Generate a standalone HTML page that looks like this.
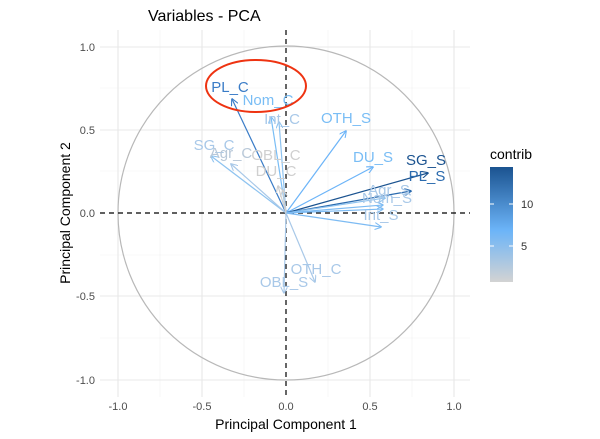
<!DOCTYPE html>
<html><head><style>body{margin:0;background:#fff}svg{display:block;font-family:"Liberation Sans",sans-serif}</style></head><body>
<svg width="600" height="439" xmlns="http://www.w3.org/2000/svg">
<defs>
<linearGradient id="g" x1="0" y1="1" x2="0" y2="0">
<stop offset="0" stop-color="#d3d3d3"/><stop offset="0.45" stop-color="#6cb4f8"/><stop offset="1" stop-color="#1b5390"/>
</linearGradient>
<marker id="a" viewBox="0 0 10 10" refX="9" refY="5" markerWidth="6" markerHeight="6" orient="auto-start-reverse"><path d="M0,0 L10,5 L0,10" fill="none" stroke="context-stroke" stroke-width="1.5"/></marker>
</defs>
<text x="148" y="21" font-size="16" fill="#000">Variables - PCA</text>
<g stroke="#f2f2f2" stroke-width="0.6">
<line x1="160" y1="30" x2="160" y2="397"/><line x1="244" y1="30" x2="244" y2="397"/><line x1="328" y1="30" x2="328" y2="397"/><line x1="412" y1="30" x2="412" y2="397"/>
<line x1="100" y1="88" x2="470" y2="88"/><line x1="100" y1="171" x2="470" y2="171"/><line x1="100" y1="255" x2="470" y2="255"/><line x1="100" y1="338" x2="470" y2="338"/>
</g>
<g stroke="#e8e8e8" stroke-width="1.1">
<line x1="118" y1="30" x2="118" y2="397"/><line x1="202" y1="30" x2="202" y2="397"/><line x1="370" y1="30" x2="370" y2="397"/><line x1="454" y1="30" x2="454" y2="397"/>
<line x1="100" y1="47" x2="470" y2="47"/><line x1="100" y1="130" x2="470" y2="130"/><line x1="100" y1="296" x2="470" y2="296"/><line x1="100" y1="380" x2="470" y2="380"/>
</g>
<ellipse cx="286" cy="213" rx="168" ry="167" fill="none" stroke="#b8b8b8" stroke-width="1.2"/>
<g stroke-dasharray="5,4" stroke="#000" stroke-width="1.2"><line x1="100" y1="213" x2="470" y2="213"/><line x1="286" y1="30" x2="286" y2="397"/></g>
<g fill="none" stroke-width="1.2" marker-end="url(#a)">
<line x1="286" y1="213" x2="232" y2="99" stroke="#3a7cc7"/>
<line x1="286" y1="213" x2="271" y2="117" stroke="#79bdf5"/>
<line x1="286" y1="213" x2="279" y2="122" stroke="#8ec3f0"/>
<line x1="286" y1="213" x2="346" y2="131" stroke="#6cb4f8"/>
<line x1="286" y1="213" x2="373" y2="167" stroke="#6cb4f8"/>
<line x1="286" y1="213" x2="428" y2="173" stroke="#1b5390"/>
<line x1="286" y1="213" x2="411" y2="191" stroke="#2a6aae"/>
<line x1="286" y1="213" x2="385" y2="198" stroke="#8ec3f0"/>
<line x1="286" y1="213" x2="383" y2="205" stroke="#7dbbf3"/>
<line x1="286" y1="213" x2="383" y2="209" stroke="#7dbbf3"/>
<line x1="286" y1="213" x2="381" y2="227" stroke="#7dbbf3"/>
<line x1="286" y1="213" x2="211" y2="156" stroke="#8ec3f0"/>
<line x1="286" y1="213" x2="231" y2="164" stroke="#a8c8e8"/>
<line x1="286" y1="213" x2="278" y2="186" stroke="#cfcfcf"/>
<line x1="286" y1="213" x2="283" y2="190" stroke="#cfcfcf"/>
<line x1="286" y1="213" x2="315" y2="282" stroke="#a8c8e8"/>
<line x1="286" y1="213" x2="284" y2="293" stroke="#a8c8e8"/>
</g>
<g font-size="15" text-anchor="middle">
<text x="230" y="92" fill="#3a7cc7">PL_C</text>
<text x="268" y="105" fill="#79bdf5">Nom_C</text>
<text x="282" y="124" fill="#a8c8e8">Int_C</text>
<text x="346" y="123" fill="#79bdf5">OTH_S</text>
<text x="373" y="162" fill="#79bdf5">DU_S</text>
<text x="426" y="165" fill="#1b5390">SG_S</text>
<text x="427" y="181" fill="#2a6aae">PL_S</text>
<text x="389" y="195" fill="#a8c8e8">Agr_S</text>
<text x="387" y="203" fill="#a8c8e8">Nom_S</text>
<text x="381" y="220" fill="#a8c8e8">Int_S</text>
<text x="214" y="150" fill="#a8c8e8">SG_C</text>
<text x="231" y="158" fill="#b8c8d8">Agr_C</text>
<text x="276" y="160" fill="#cfcfcf">OBL_C</text>
<text x="276" y="176" fill="#cfcfcf">DU_C</text>
<text x="316" y="274" fill="#a8c8e8">OTH_C</text>
<text x="284" y="287" fill="#a8c8e8">OBL_S</text>
</g>
<ellipse cx="256" cy="86" rx="50" ry="26" fill="none" stroke="#ee3311" stroke-width="2"/>
<g font-size="11" fill="#4d4d4d">
<g text-anchor="end"><text x="95" y="51">1.0</text><text x="95" y="134">0.5</text><text x="95" y="217">0.0</text><text x="95" y="300">-0.5</text><text x="95" y="384">-1.0</text></g>
<g text-anchor="middle"><text x="118" y="410">-1.0</text><text x="202" y="410">-0.5</text><text x="286" y="410">0.0</text><text x="370" y="410">0.5</text><text x="454" y="410">1.0</text></g>
</g>
<text x="286" y="429" font-size="14" text-anchor="middle">Principal Component 1</text>
<text transform="translate(70,213) rotate(-90)" font-size="14" text-anchor="middle">Principal Component 2</text>
<text x="490" y="159" font-size="14">contrib</text>
<rect x="490" y="167" width="23" height="115" fill="url(#g)"/>
<g stroke="#fff" stroke-width="1"><line x1="490" y1="204" x2="494" y2="204"/><line x1="509" y1="204" x2="513" y2="204"/><line x1="490" y1="246" x2="494" y2="246"/><line x1="509" y1="246" x2="513" y2="246"/></g>
<g font-size="11" fill="#333"><text x="521" y="208">10</text><text x="521" y="250">5</text></g>
</svg>
</body></html>
